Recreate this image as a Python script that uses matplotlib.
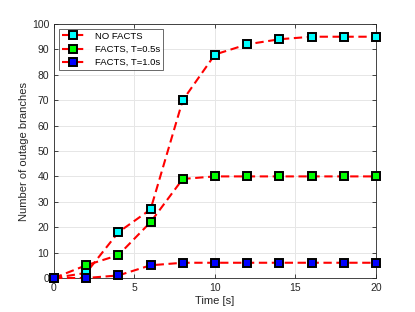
import matplotlib
matplotlib.use("Agg")
import matplotlib.pyplot as plt

# data
time_s = [0, 2, 4, 6, 8, 10, 12, 14, 16, 18, 20]
no_facts = [0, 2, 18, 27, 70, 88, 92, 94, 95, 95, 95]
facts_05 = [0, 5, 9, 22, 39, 40, 40, 40, 40, 40, 40]
facts_10 = [0, 0, 1, 5, 6, 6, 6, 6, 6, 6, 6]

series = [
    (no_facts, "NO FACTS", "#00ffff"),
    (facts_05, "FACTS, T=0.5s", "#00ff00"),
    (facts_10, "FACTS, T=1.0s", "#0000ff"),
]

plt.rcParams['font.family'] = ['Liberation Sans', 'DejaVu Sans']

fig = plt.figure(figsize=(4.15, 3.12), dpi=100)
ax = fig.add_axes([0.130, 0.109, 0.776, 0.814])

for vals, name, face in series:
    ax.plot(time_s, vals, linestyle='--', color='red', linewidth=1.5,
            dashes=(4, 2.2), marker='s', markersize=5.3,
            markerfacecolor=face, markeredgecolor='black',
            markeredgewidth=1.4, label=name, clip_on=False, zorder=3)

ax.set_xlim(0, 20)
ax.set_ylim(0, 100)
ax.set_xticks([0, 5, 10, 15, 20])
ax.set_yticks(range(0, 101, 10))
ax.grid(True, color='#e6e6e6', linewidth=0.7)
ax.set_axisbelow(True)
ax.tick_params(direction='in', length=3, width=0.6, labelsize=7.5,
               colors='#262626', top=True, right=True)
for sp in ax.spines.values():
    sp.set_color('#262626')
    sp.set_linewidth(0.6)

ax.set_xlabel("Time [s]", fontsize=8, color='#262626', labelpad=2)
ax.set_ylabel("Number of outage branches", fontsize=8, color='#262626', labelpad=2)

leg = ax.legend(loc='upper left', fontsize=6.8, frameon=True, fancybox=False,
                edgecolor='#262626', handlelength=2.4, borderaxespad=0.5,
                labelspacing=0.45, handletextpad=1.1, borderpad=0.3)
leg.get_frame().set_linewidth(0.6)

fig.savefig("out.png", dpi=100, facecolor='white')
